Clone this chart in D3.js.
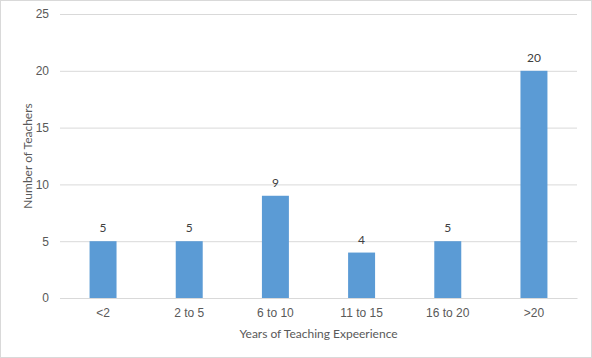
<!DOCTYPE html>
<html><head><meta charset="utf-8">
<script src="https://cdn.jsdelivr.net/npm/d3@7"></script>
<style>body{margin:0;background:#fff}svg{display:block;font-family:Lato,"Open Sans",sans-serif}</style>
</head><body><svg id="c" width="592" height="358"></svg>
<script>
const categories = ["<2","2 to 5","6 to 10","11 to 15","16 to 20",">20"];
const values = [5,5,9,4,5,20];
const yTicks = [0,5,10,15,20,25];
const xTitle = "Years of Teaching Expeerience";
const yTitle = "Number of Teachers";

const svg = d3.select("#c");
svg.append("rect").attr("x",0.5).attr("y",0.5).attr("width",591).attr("height",357)
  .attr("fill","#fff").attr("stroke","#d9d9d9");
const L=60,R=577,T=14,B=298;
const x = d3.scaleBand().domain(categories).range([L,R]).paddingInner(0.687).paddingOuter(0.343);
const y = d3.scaleLinear().domain([0,25]).range([B,T]);

const gy = svg.append("g").attr("transform",`translate(${L},0)`)
  .call(d3.axisLeft(y).tickValues(yTicks).tickSize(-(R-L)).tickPadding(11));
gy.select(".domain").remove();
gy.selectAll(".tick line").attr("stroke","#d9d9d9");
gy.selectAll(".tick text").attr("fill","#595959").style("font-size","12px");

svg.selectAll(".bar").data(values).join("rect")
  .attr("x",(d,i)=>x(categories[i])).attr("width",x.bandwidth())
  .attr("y",d=>y(d)).attr("height",d=>B-y(d)).attr("fill","#5b9bd5");

svg.selectAll(".lbl").data(values).join("text")
  .attr("x",(d,i)=>x(categories[i])+x.bandwidth()/2).attr("y",d=>y(d)-9)
  .attr("text-anchor","middle").attr("fill","#404040").style("font-size","12px").text(d=>d);

const gx = svg.append("g").attr("transform",`translate(0,${B})`)
  .call(d3.axisBottom(x).tickSize(0).tickPadding(10));
gx.select(".domain").attr("stroke","#d9d9d9");
gx.selectAll(".tick text").attr("fill","#595959").style("font-size","12px");

svg.append("text").attr("x",(L+R)/2).attr("y",338).attr("text-anchor","middle")
  .attr("fill","#595959").style("font-size","12px").text(xTitle);
svg.append("text").attr("transform",`translate(32,${(T+B)/2}) rotate(-90)`).attr("text-anchor","middle")
  .attr("fill","#595959").style("font-size","12px").text(yTitle);
</script></body></html>
